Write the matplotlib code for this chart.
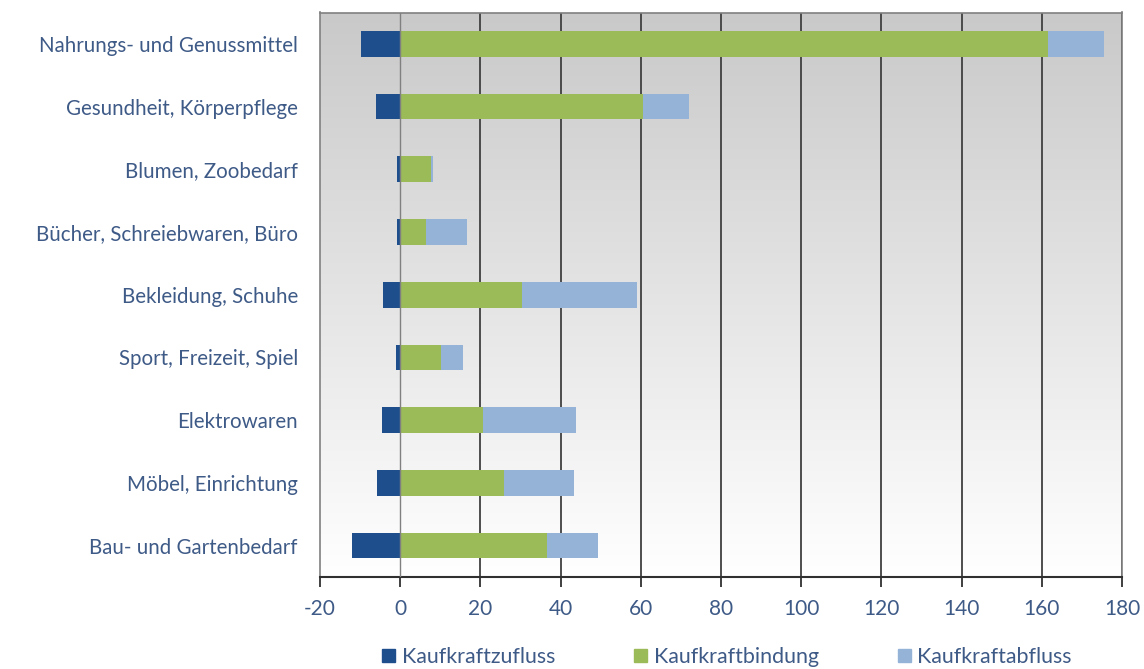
import numpy as np
import matplotlib
matplotlib.use("Agg")
import matplotlib.pyplot as plt
from matplotlib.patches import Patch
from matplotlib.colors import LinearSegmentedColormap

categories = [
    "Nahrungs- und Genussmittel",
    "Gesundheit, Körperpflege",
    "Blumen, Zoobedarf",
    "Bücher, Schreiebwaren, Büro",
    "Bekleidung, Schuhe",
    "Sport, Freizeit, Spiel",
    "Elektrowaren",
    "Möbel, Einrichtung",
    "Bau- und Gartenbedarf",
]
kaufkraftzufluss = [-9.7, -6.1, -0.9, -0.9, -4.2, -1.1, -4.5, -5.8, -11.9]
kaufkraftbindung = [161.5, 60.6, 7.6, 6.4, 30.3, 10.2, 20.7, 25.9, 36.7]
kaufkraftabfluss = [14.0, 11.4, 0.6, 10.2, 28.7, 5.4, 23.1, 17.5, 12.6]
series_names = ["Kaufkraftzufluss", "Kaufkraftbindung", "Kaufkraftabfluss"]
series_colors = ["#1F4E8C", "#9BBB59", "#95B3D7"]
xticks = [-20, 0, 20, 40, 60, 80, 100, 120, 140, 160, 180]

text_color = "#3E5A87"
plt.rcParams['font.family'] = ['Lato', 'DejaVu Sans']

fig = plt.figure(figsize=(11.44, 6.69), dpi=100)
ax = fig.add_axes([320/1144, 1-577/669, (1122-320)/1144, (577-12.5)/669])

y = np.arange(len(categories))
h = 0.41
ax.barh(y, kaufkraftzufluss, height=h, color=series_colors[0], zorder=3, label=series_names[0])
ax.barh(y, kaufkraftbindung, height=h, color=series_colors[1], zorder=3, label=series_names[1])
ax.barh(y, kaufkraftabfluss, left=kaufkraftbindung, height=h, color=series_colors[2], zorder=3, label=series_names[2])

ax.set_xlim(-20, 180)
ax.set_ylim(len(categories) - 0.5, -0.5)

# gradient background
grad = np.linspace(0, 1, 256).reshape(-1, 1)
cmap = LinearSegmentedColormap.from_list("bg", ["#c9c9c9", "#ffffff"])
ax.imshow(grad, extent=(-20, 180, len(categories) - 0.5, -0.5), aspect='auto', cmap=cmap, zorder=0)

for xv in xticks[2:]:
    ax.axvline(xv, color="#404040", lw=1.3, zorder=1)
ax.axvline(0, color="#808080", lw=1.0, zorder=4)

ax.set_yticks(y)
ax.set_yticklabels(categories, fontsize=14.8, color=text_color)
ax.tick_params(axis='y', length=0, pad=16)
ax.set_xticks(xticks)
ax.set_xticklabels([str(v) for v in xticks], fontsize=15, color=text_color)
ax.tick_params(axis='x', direction='out', length=7, width=1.3, color="#303030", pad=9)

for s in ['top', 'left', 'right']:
    ax.spines[s].set_color("#808080")
    ax.spines[s].set_linewidth(1.2)
ax.spines['bottom'].set_color("#303030")
ax.spines['bottom'].set_linewidth(1.5)

handles = [Patch(color=c, label=n) for c, n in zip(series_colors, series_names)]
leg = fig.legend(handles=handles, loc='center', bbox_to_anchor=(727/1144, 1-657/669), ncol=3,
                 frameon=False, fontsize=15.4, handlelength=0.6, handleheight=0.6,
                 handletextpad=0.3, columnspacing=3.7)
for t in leg.get_texts():
    t.set_color(text_color)

fig.savefig("out.png", dpi=100)
